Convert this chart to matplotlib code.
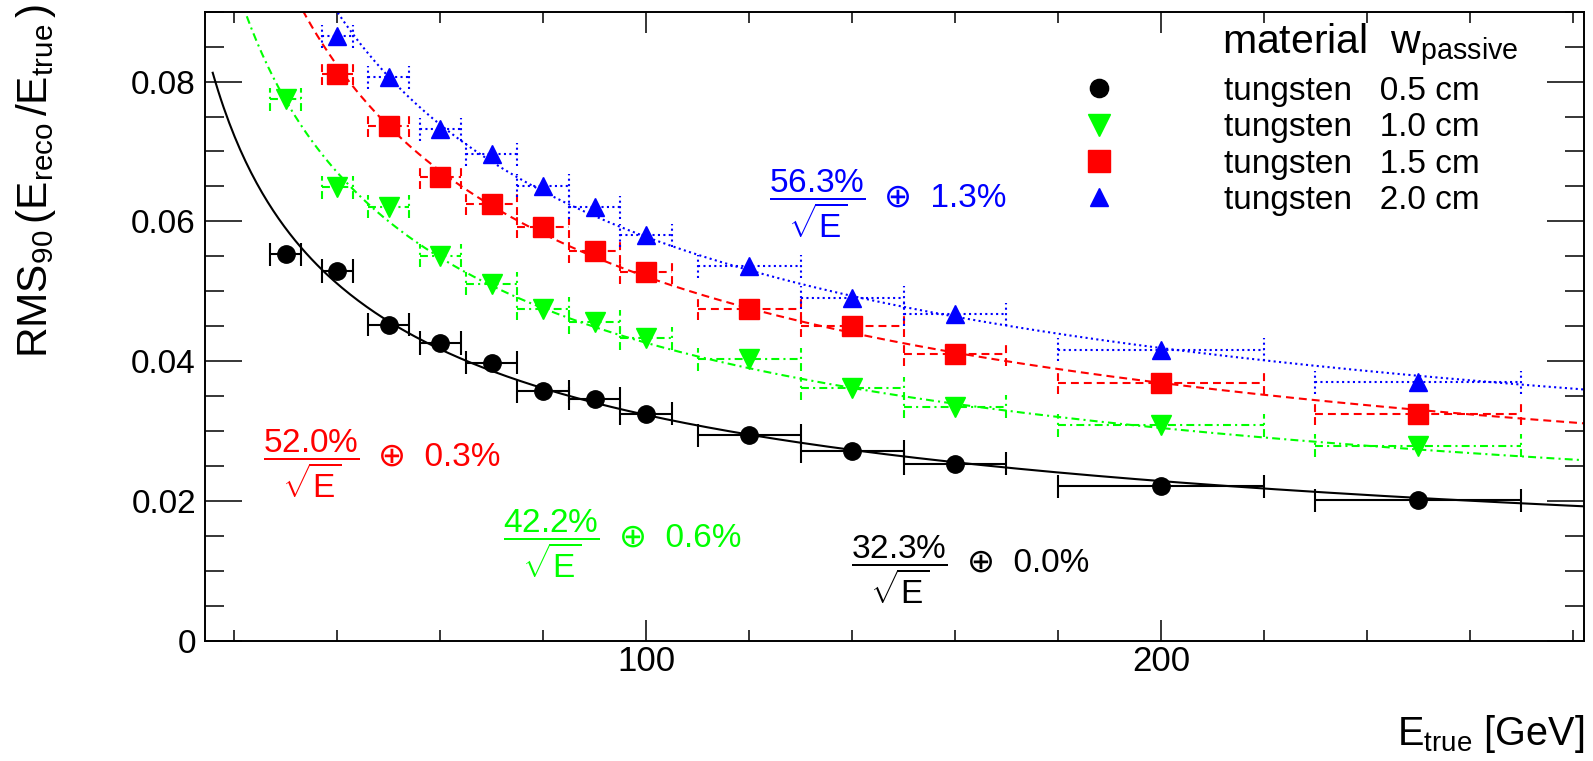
import numpy as np
import matplotlib
matplotlib.use("Agg")
import matplotlib.pyplot as plt
from matplotlib.lines import Line2D
from matplotlib.ticker import MultipleLocator, FuncFormatter

plt.rcParams['font.family'] = ['Liberation Sans', 'DejaVu Sans']
plt.rcParams['mathtext.fontset'] = 'custom'
plt.rcParams['mathtext.rm'] = 'Liberation Sans'
plt.rcParams['mathtext.it'] = 'Liberation Sans:italic'
plt.rcParams['mathtext.bf'] = 'Liberation Sans:bold'

# beam energies [GeV] and half-widths of the energy bins
energy = np.array([30, 40, 50, 60, 70, 80, 90, 100, 120, 140, 160, 200, 250])
energy_err = np.array([3, 3, 4, 4, 5, 5, 5, 5, 10, 10, 10, 20, 20])

# RMS90 resolution for each passive-layer thickness
rms_05 = [0.0553, 0.0529, 0.0452, 0.0426, 0.0398, 0.0357, 0.0346, 0.0325,
          0.0294, 0.0271, 0.0253, 0.0221, 0.0201]
rms_10 = [0.0775, 0.0649, 0.0621, 0.0551, 0.0511, 0.0475, 0.0456, 0.0433,
          0.0403, 0.0361, 0.0335, 0.0308, 0.0279]
rms_15 = [0.0811, 0.0737, 0.0663, 0.0625, 0.0592, 0.0557, 0.0527,
          0.0475, 0.0451, 0.0410, 0.0369, 0.0325]
rms_20 = [0.0865, 0.0806, 0.0732, 0.0696, 0.0651, 0.0620, 0.0580,
          0.0536, 0.0491, 0.0467, 0.0416, 0.0370]

thickness = ['0.5 cm', '1.0 cm', '1.5 cm', '2.0 cm']
# fit: sigma/E = a/sqrt(E) (+) c
fit_stoch = [0.323, 0.422, 0.520, 0.563]
fit_const = [0.000, 0.006, 0.003, 0.013]

colors = ['black', '#00ff00', '#ff0000', '#0000ff']
markers = ['o', 'v', 's', '^']
msizes = [12.5, 14.5, 14.5, 12.5]
styles = ['-', (0, (3.8, 2.0, 1.0, 2.0)), (0, (3.8, 2.4)), (0, (1.0, 1.6))]
# where the fit result text sits (center of fraction, start of "(+) c")
label_pos = [(149.2, 0.0101, 162.3, 0.01106),
             (81.6, 0.01393, 94.8, 0.01463),
             (34.9, 0.02532, 47.9, 0.02629),
             (133.3, 0.06249, 146.2, 0.06329)]

xs = [energy, energy, energy[1:], energy[1:]]
xes = [energy_err, energy_err, energy_err[1:], energy_err[1:]]
ys = [rms_05, rms_10, rms_15, rms_20]

fig = plt.figure(figsize=(15.93, 7.61), dpi=100)
ax = fig.add_axes([205 / 1593, 1 - 640.7 / 761, (1584 - 205) / 1593, (640.7 - 11.7) / 761])
ax.set_xlim(14.3, 282.2)
ax.set_ylim(0, 0.09)

e_fit = np.linspace(15.8, 282.2, 500)
cap = 0.00165
handles = []
for i in range(4):
    x = np.asarray(xs[i], float)
    xe = np.asarray(xes[i], float)
    y = np.asarray(ys[i], float)
    c, ls = colors[i], styles[i]
    a, k = fit_stoch[i], fit_const[i]
    ax.plot(e_fit, np.hypot(a / np.sqrt(e_fit), k), color=c, ls=ls, lw=1.5, zorder=2)
    ax.hlines(y, x - xe, x + xe, colors=c, linestyles=[ls], lw=1.5, zorder=3)
    ax.vlines(np.concatenate([x - xe, x + xe]), np.concatenate([y, y]) - cap,
              np.concatenate([y, y]) + cap, colors=c, linestyles=[ls], lw=1.5, zorder=3)
    ax.plot(x, y, ls='none', marker=markers[i], ms=msizes[i], color=c, mec=c, zorder=5)
    handles.append(Line2D([], [], ls='none', marker=markers[i], ms=msizes[i] * 1.05, color=c))

    fx, fy, ox, oy = label_pos[i]
    ax.text(fx, fy, r'$\dfrac{%.1f\%%}{\sqrt{\mathrm{E}}}$' % (100 * a),
            ha='center', va='center', color=c, fontsize=24)
    ax.text(ox, oy, '\u2295  %.1f%%' % (100 * k), ha='left', va='center',
            color=c, fontsize=24)

ax.legend(handles, ['tungsten   ' + t for t in thickness], loc='upper left',
          bbox_to_anchor=(1066 / 1593, 1 - 76 / 761), bbox_transform=fig.transFigure,
          frameon=False, fontsize=24, handlelength=2, handletextpad=2.75,
          labelspacing=0.16, borderpad=0, borderaxespad=0, numpoints=1)
fig.text(1222 / 1593, 1 - 54 / 761, r'material  w$_\mathrm{passive}$',
         fontsize=29.5, va='baseline', ha='left')

# axes, ticks on all sides pointing inwards
ax.xaxis.set_major_locator(MultipleLocator(100))
ax.xaxis.set_minor_locator(MultipleLocator(20))
ax.yaxis.set_major_locator(MultipleLocator(0.02))
ax.yaxis.set_minor_locator(MultipleLocator(0.005))
ax.yaxis.set_major_formatter(FuncFormatter(lambda v, p: '0' if abs(v) < 1e-9 else '%.2f' % v))
ax.tick_params(which='both', direction='in', top=True, right=True, width=1.1)
ax.tick_params(axis='x', which='major', length=15, labelsize=25, pad=3)
ax.tick_params(axis='x', which='minor', length=7.7)
ax.tick_params(axis='y', which='major', length=26.6, labelsize=24, pad=6.5)
ax.tick_params(axis='y', which='minor', length=14)
for s in ax.spines.values():
    s.set_linewidth(1.4)

fig.text(1584 / 1593, 1 - 745 / 761, r'E$_\mathrm{true}$ [GeV]', ha='right',
         va='baseline', fontsize=28.5)
fig.text(14 / 1593, 1 - 4 / 761,
         r'RMS$_{90}\,$(E$_\mathrm{reco}\,$/E$_\mathrm{true}\,$)',
         rotation=90, ha='left', va='top', fontsize=30.5)

fig.savefig('out.png', dpi=100)
